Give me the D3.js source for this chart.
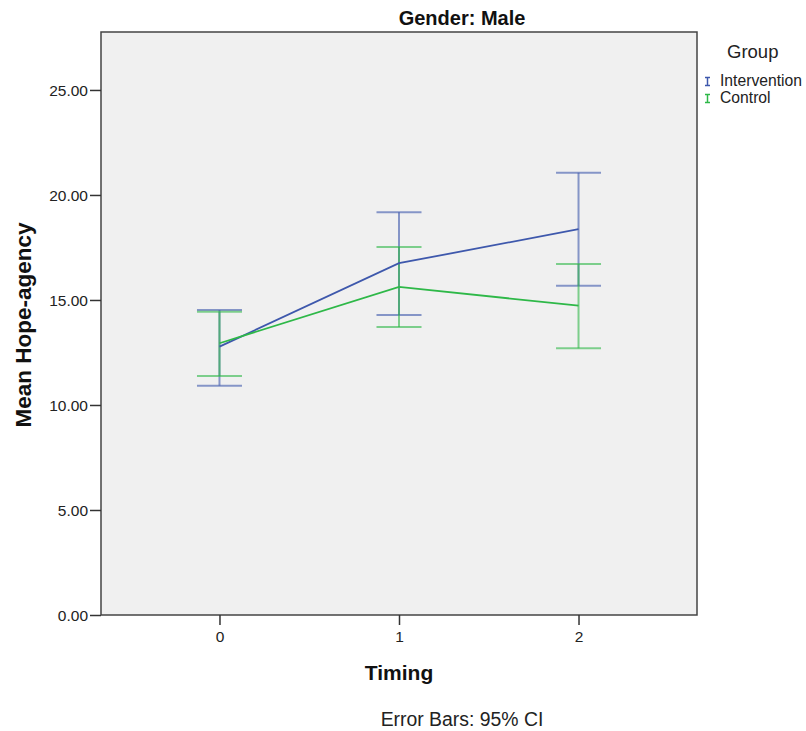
<!DOCTYPE html>
<html><head><meta charset="utf-8">
<script src="https://cdn.jsdelivr.net/npm/d3@7"></script>
<style>body{margin:0;background:#fff}svg text{font-family:"Liberation Sans",Arial,sans-serif}</style>
</head><body>
<svg id="c" width="806" height="731"></svg>
<script>
const timings = [0, 1, 2];
const groups = ["Intervention", "Control"];
const interventionMean = [12.78, 16.75, 18.37];
const interventionLower = [10.92, 14.29, 15.68];
const interventionUpper = [14.52, 19.18, 21.06];
const controlMean = [12.94, 15.62, 14.73];
const controlLower = [11.38, 13.71, 12.70];
const controlUpper = [14.44, 17.52, 16.71];
const yTicks = [0, 5, 10, 15, 20, 25];
const colors = ["#3e58ac", "#2eb848"];

const series = [
  {name: groups[0], mean: interventionMean, lo: interventionLower, hi: interventionUpper, color: colors[0]},
  {name: groups[1], mean: controlMean, lo: controlLower, hi: controlUpper, color: colors[1]}
];

const svg = d3.select("#c");
const L = 101, R = 697, T = 32, B = 615;
const x = d3.scaleLinear().domain([-0.66, 2.66]).range([L, R]);
const y = d3.scaleLinear().domain([0, 27.76]).range([B, T]);

svg.append("rect").attr("x", L).attr("y", T).attr("width", R - L).attr("height", B - T)
  .attr("fill", "#f0f0f0");

// error bars
series.forEach(s => {
  const g = svg.append("g").attr("stroke", s.color).attr("stroke-opacity", 0.6).attr("stroke-width", 2).attr("fill", "none");
  timings.forEach((t, i) => {
    g.append("line").attr("x1", x(t)).attr("x2", x(t)).attr("y1", y(s.lo[i])).attr("y2", y(s.hi[i]));
    g.append("line").attr("x1", x(t) - 22.5).attr("x2", x(t) + 22.5).attr("y1", y(s.lo[i])).attr("y2", y(s.lo[i]));
    g.append("line").attr("x1", x(t) - 22.5).attr("x2", x(t) + 22.5).attr("y1", y(s.hi[i])).attr("y2", y(s.hi[i]));
  });
});
// mean lines
series.forEach(s => {
  svg.append("path").datum(timings.map((t, i) => [t, s.mean[i]]))
    .attr("d", d3.line().x(d => x(d[0])).y(d => y(d[1])))
    .attr("fill", "none").attr("stroke", s.color).attr("stroke-width", 1.8);
});

// frame
svg.append("rect").attr("x", L).attr("y", T).attr("width", R - L).attr("height", B - T)
  .attr("fill", "none").attr("stroke", "#444").attr("stroke-width", 1.5);

// axes
const ya = svg.append("g").attr("transform", `translate(${L},0)`)
  .call(d3.axisLeft(y).tickValues(yTicks).tickFormat(d3.format(".2f")).tickSize(11).tickSizeOuter(0));
ya.select(".domain").remove();
ya.selectAll("line").attr("stroke", "#333").attr("stroke-width", 1.5);
ya.selectAll("text").attr("font-size", 15.5).attr("fill", "#222").attr("dx", "1").attr("dy", "0.36em");

const xa = svg.append("g").attr("transform", `translate(0,${B})`)
  .call(d3.axisBottom(x).tickValues(timings).tickFormat(d3.format("d")).tickSize(10).tickSizeOuter(0));
xa.select(".domain").remove();
xa.selectAll("line").attr("stroke", "#333").attr("stroke-width", 1.5);
xa.selectAll("text").attr("font-size", 15.5).attr("fill", "#222").attr("y", 27).attr("dy", null);

// titles
svg.append("text").attr("x", 462).attr("y", 25).attr("text-anchor", "middle")
  .attr("font-size", 20).attr("font-weight", "bold").attr("fill", "#111").text("Gender: Male");
svg.append("text").attr("transform", `translate(31,325) rotate(-90)`).attr("text-anchor", "middle")
  .attr("font-size", 22.5).attr("font-weight", "bold").attr("fill", "#111").text("Mean Hope-agency");
svg.append("text").attr("x", x(1)).attr("y", 680).attr("text-anchor", "middle")
  .attr("font-size", 21).attr("font-weight", "bold").attr("fill", "#111").text("Timing");
svg.append("text").attr("x", 462).attr("y", 726).attr("text-anchor", "middle")
  .attr("font-size", 19.4).attr("fill", "#222").text("Error Bars: 95% CI");

// legend
svg.append("text").attr("x", 727).attr("y", 58).attr("font-size", 18.5).attr("fill", "#222").text("Group");
series.forEach((s, i) => {
  const cy = 81.5 + i * 17;
  const g = svg.append("g").attr("stroke", s.color).attr("stroke-width", 1.5);
  g.append("line").attr("x1", 707.5).attr("x2", 707.5).attr("y1", cy - 4).attr("y2", cy + 4);
  g.append("line").attr("x1", 705).attr("x2", 710).attr("y1", cy - 4).attr("y2", cy - 4);
  g.append("line").attr("x1", 705).attr("x2", 710).attr("y1", cy + 4).attr("y2", cy + 4);
  svg.append("text").attr("x", 720).attr("y", cy + 4.5).attr("font-size", 15.7).attr("fill", "#222").text(s.name);
});
</script>
</body></html>
